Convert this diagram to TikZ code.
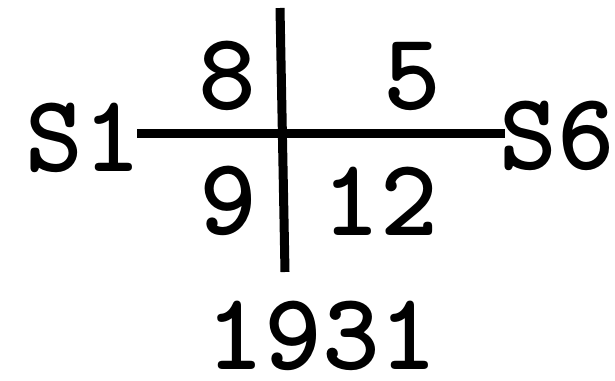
\documentclass[tikz,border=0pt]{standalone}
\begin{document}
\begin{tikzpicture}[x=1pt,y=-1pt,
  lbl/.style={inner sep=0pt,font=\ttfamily\bfseries\fontsize{110}{110}\selectfont},
  rule/.style={line width=9pt,black}]
\useasboundingbox (0,0) rectangle (615,380);
\node[lbl] (s1) at (83,137.5) {S1};
\node[lbl] (s6) at (557,136) {S6};
\node[lbl] (n8) at (227,76) {8};
\node[lbl] (n5) at (412,76) {5};
\node[lbl] (n9) at (228,201) {9};
\node[lbl] (n12) at (380,201) {12};
\node[lbl] (yr) at (322,336) {1931};
\coordinate (hl) at (137,133);
\coordinate (hr) at (505,133);
\coordinate (vt) at (280,8);
\coordinate (vb) at (285,272);
\draw[rule] (hl) -- (hr);
\draw[rule] (vt) -- (vb);
\end{tikzpicture}
\end{document}
